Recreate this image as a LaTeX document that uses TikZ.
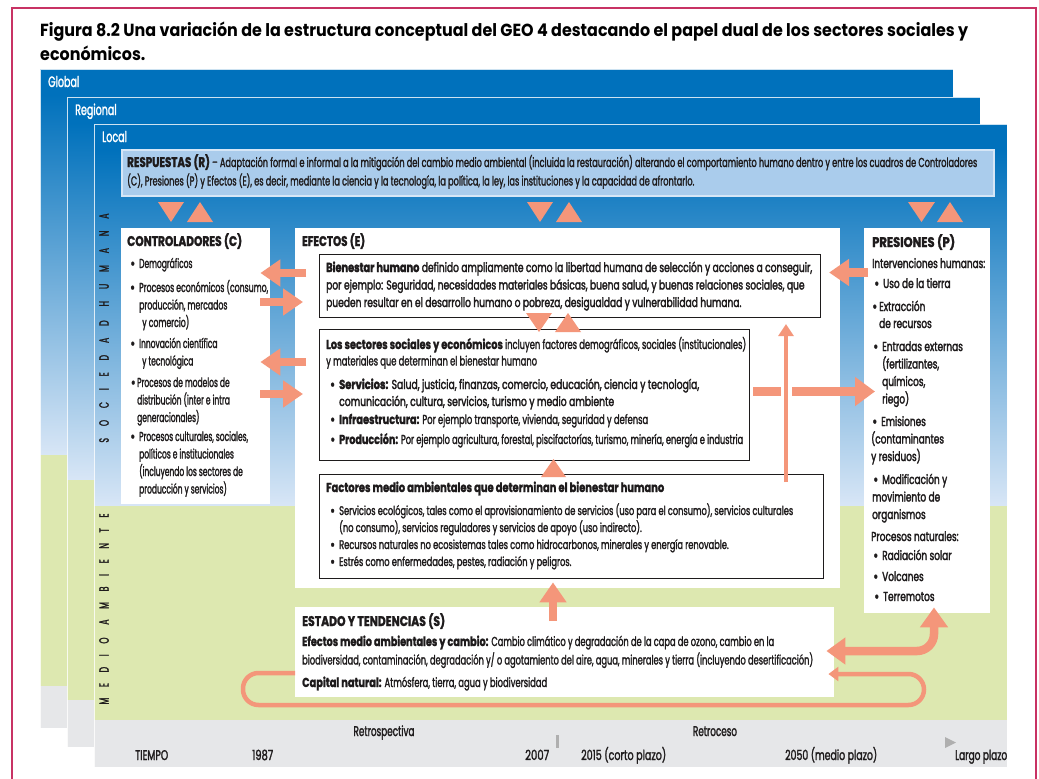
\documentclass[tikz,border=0pt]{standalone}
\usepackage{graphicx}
\usepackage{fontspec}
\setmainfont{Poppins}[FakeStretch=0.635,FakeBold=1.6,BoldFeatures={FakeStretch=0.74}]
\newfontfamily\narrowfont{Poppins}[FakeStretch=0.58,FakeBold=1.6,BoldFeatures={FakeStretch=0.74}]
\newfontfamily\widefont{Poppins}[FakeStretch=0.69,FakeBold=2.2,BoldFeatures={FakeStretch=0.74}]
\newfontfamily\titlefont{Poppins}[FakeStretch=0.86]
\usetikzlibrary{arrows.meta,calc}
\definecolor{gblue}{RGB}{0,113,188}
\definecolor{lblue}{RGB}{216,230,246}
\definecolor{rblue}{RGB}{170,204,236}
\definecolor{rborder}{RGB}{214,230,246}
\definecolor{ggreen}{RGB}{221,232,176}
\definecolor{ggray}{RGB}{230,231,233}
\definecolor{salmon}{RGB}{244,150,122}
\definecolor{framec}{RGB}{200,50,100}
\definecolor{tgray}{RGB}{175,175,175}
\definecolor{ink}{RGB}{30,27,28}
\newcommand\blk[2]{\vtop{\baselineskip=#1pt\lineskiplimit=-\maxdimen\halign{##\hfil\cr#2\crcr}}}
\newcommand\fw[2]{\resizebox{#1pt}{\height}{#2}}
\newcommand\bu{\llap{\textbf{•}\hspace{4pt}}}
\newcommand\panel[8]{%
  \shade[top color=gblue, bottom color=lblue] (#1,#3+26) rectangle (#2,#4);
  \fill[gblue] (#1,#3) rectangle (#2,#3+27);
  \fill[ggreen] (#1,#4) rectangle (#2,#5);
  \fill[ggray] (#1,#5) rectangle (#2,#6);
  \draw[panelline] (#1,#3) rectangle (#2,#6);
  \node[txt, text=white, font=\fontsize{15}{17}\selectfont] (#8) at (#1+8,#3+18) {#7};
}
\tikzset{
  txt/.style={anchor=base west, inner sep=0pt, text=ink, font=\fontsize{13}{17}\selectfont},
  ctxt/.style={txt, font=\narrowfont\fontsize{13}{17}\selectfont},
  wtxt/.style={txt, font=\widefont\fontsize{13}{17}\selectfont},
  hd/.style={txt, font=\bfseries\fontsize{14}{17}\selectfont},
  smalltxt/.style={txt, font=\fontsize{12.5}{17}\selectfont},
  tltxt/.style={txt, font=\fontsize{14}{17}\selectfont},
  panelline/.style={draw=white, draw opacity=0.8, line width=0.8pt},
  wbox/.style={fill=white, inner sep=0pt, anchor=north west},
  ibox/.style={fill=white, draw=ink, line width=1.1pt, inner sep=0pt, anchor=north west},
  flowarrow/.style={draw=salmon, line width=8.5pt, -{Triangle[width=26pt,length=20pt]}},
  thinarrow/.style={draw=salmon, line width=4.5pt, -{Triangle[width=15pt,length=12pt]}},
  looparrow/.style={draw=salmon, line width=4.5pt, rounded corners=15.5pt, -{Triangle[width=14pt,length=10pt]}},
  vlabel/.style={inner sep=0pt, rotate=90, text=ink},
}
\begin{document}
\begin{tikzpicture}[x=1pt,y=-1pt]
\useasboundingbox (0,0) rectangle (1039,779);
\fill[white] (0,0) rectangle (1039,779);
\draw[framec, line width=1.3pt] (12,790) -- (12,8) -- (1036,8) -- (1036,790);

% title
\node[txt, text=black, font=\titlefont\bfseries\fontsize{17.5}{23}\selectfont] (title) at (40,37)
  {\fw{928}{\blk{23}{Figura 8.2 Una variación de la estructura conceptual del GEO 4 destacando el papel dual de los sectores sociales y\cr económicos.}}};

% panels
\panel{40}{953}{69}{455}{686}{728}{Global}{pg}
\panel{67}{980}{97}{480}{700}{747}{Regional}{pr}
\panel{94}{1007}{124}{506}{720}{767}{Local}{pl}

% respuestas
\node[fill=rblue, draw=rborder, line width=1.5pt, inner sep=0pt, anchor=north west, minimum width=872pt, minimum height=46pt] (resp) at (121,149) {};
\node[txt] (respt) at (127,167) {\fw{850}{\blk{18.5}{{\bfseries\fontsize{14}{17}\selectfont RESPUESTAS (R)} – Adaptación formal e informal a la mitigación del cambio medio ambiental (incluida la restauración) alterando el comportamiento humano dentro y entre los cuadros de Controladores\cr (C), Presiones (P) y Efectos (E), es decir, mediante la ciencia y la tecnología, la política, la ley, las instituciones y la capacidad de afrontarlo.}}};

% vertical labels
\node[vlabel, font=\narrowfont\fontsize{13.5}{13.5}\selectfont\addfontfeatures{LetterSpace=88}] (vsh) at (104,328) {SOCIEDAD HUMANA};
\node[vlabel, font=\narrowfont\fontsize{13.5}{13.5}\selectfont\addfontfeatures{LetterSpace=79}] (vma) at (104,609) {MEDIO AMBIENTE};

% main boxes
\node[wbox, minimum width=149pt, minimum height=276pt] (ctrl) at (121,228) {};
\node[wbox, minimum width=545pt, minimum height=360pt] (eff) at (295,228) {};
\node[wbox, minimum width=126pt, minimum height=385pt] (pres) at (864,228) {};
\node[ibox, minimum width=501pt, minimum height=63pt] (bien) at (319,254) {};
\node[ibox, minimum width=430pt, minimum height=131pt] (sec) at (319,329) {};
\node[ibox, minimum width=504pt, minimum height=104pt] (fac) at (319,474) {};
\node[wbox, minimum width=539pt, minimum height=90pt] (est) at (295,607) {};

% controladores text
\node[hd] (cT) at (127,246) {\fw{115}{CONTROLADORES (C)}};
\node[ctxt] (c1) at (139,268) {\bu Demográficos};
\node[ctxt] (c2) at (139,292) {\fw{129}{\blk{17.5}{\bu Procesos económicos (consumo,\cr producción, mercados\cr \hspace*{3pt}y comercio)}}};
\node[ctxt] (c3) at (139,348) {\blk{17.5}{\bu Innovación científica\cr \hspace*{3pt}y tecnológica}};
\node[ctxt] (c4) at (137,387) {\blk{17.5}{\llap{\textbf{•}\hspace{1.5pt}}Procesos de modelos de\cr distribución (inter e intra\cr generacionales)}};
\node[ctxt] (c5) at (139,441) {\blk{17.5}{\bu Procesos culturales, sociales,\cr políticos e institucionales\cr (incluyendo los sectores de\cr producción y servicios)}};

% efectos text
\node[hd] (eT) at (302,246) {\fw{63}{EFECTOS (E)}};
\node[wtxt] (bt) at (326,272) {\fw{486}{\blk{17.5}{\textbf{Bienestar humano} definido ampliamente como la libertad humana de selección y acciones a conseguir,\cr por ejemplo: Seguridad, necesidades materiales básicas, buena salud, y buenas relaciones sociales, que\cr pueden resultar en el desarrollo humano o pobreza, desigualdad y vulnerabilidad humana.}}};
\node[txt] (st) at (326,349) {\fw{420}{\blk{16.5}{\textbf{Los sectores sociales y económicos} incluyen factores demográficos, sociales (institucionales)\cr y materiales que determinan el bienestar humano}}};
\node[wtxt] (s1) at (339,389) {\fw{360}{\blk{17}{\bu\textbf{Servicios:} Salud, justicia, finanzas, comercio, educación, ciencia y tecnología,\cr comunicación, cultura, servicios, turismo y medio ambiente}}};
\node[txt] (s2) at (339,424) {\fw{309}{\bu\textbf{Infraestructura:} Por ejemplo transporte, vivienda, seguridad y defensa}};
\node[txt] (s3) at (339,444) {\fw{404}{\bu\textbf{Producción:} Por ejemplo agricultura, forestal, piscifactorías, turismo, minería, energía e industria}};
\node[hd, font=\bfseries\fontsize{13}{17}\selectfont] (fT) at (326,492) {\fw{338}{Factores medio ambientales que determinan el bienestar humano}};
\node[smalltxt] (f1) at (339,515) {\fw{454}{\blk{17}{\bu Servicios ecológicos, tales como el aprovisionamiento de servicios (uso para el consumo), servicios culturales\cr (no consumo), servicios reguladores y servicios de apoyo (uso indirecto).\cr \bu Recursos naturales no ecosistemas tales como hidrocarbonos, minerales y energía renovable.\cr \bu Estrés como enfermedades, pestes, radiación y peligros.}}};

% presiones text
\node[hd] (pT) at (872,247) {\fw{83}{PRESIONES (P)}};
\node[wtxt] (p0) at (872,268) {\fw{113}{Intervenciones humanas:}};
\node[wtxt] (p1) at (883,288) {\bu Uso de la tierra};
\node[wtxt] (p2) at (879,311) {\blk{17}{\llap{\textbf{•}\hspace{2pt}}Extracción\cr de recursos}};
\node[wtxt] (p3) at (882,351) {\blk{17.5}{\bu Entradas externas\cr (fertilizantes,\cr químicos,\cr riego)}};
\node[wtxt] (p4) at (871,426) {\blk{17.5}{\hspace*{10pt}\bu Emisiones\cr (contaminantes\cr y residuos)}};
\node[wtxt] (p5) at (872,484) {\blk{17.5}{\hspace*{10pt}\bu Modificación y\cr movimiento de\cr organismos}};
\node[wtxt] (p6) at (871,541) {Procesos naturales:};
\node[wtxt] (p7) at (882,560) {\bu Radiación solar};
\node[wtxt] (p8) at (882,581) {\bu Volcanes};
\node[wtxt] (p9) at (883,601) {\bu Terremotos};

% estado text
\node[hd] (eS) at (302,626) {\fw{143}{ESTADO Y TENDENCIAS (S)}};
\node[txt] (e1) at (302,646) {\fw{511}{\blk{18.5}{\textbf{Efectos medio ambientales y cambio:} Cambio climático y degradación de la capa de ozono, cambio en la\cr biodiversidad, contaminación, degradación y/ o agotamiento del aire, agua, minerales y tierra (incluyendo desertificación)}}};
\node[txt] (e2) at (302,687) {\fw{245}{\textbf{Capital natural:} Atmósfera, tierra, agua y biodiversidad}};

% timeline
\node[tltxt] (t0) at (135,760) {\fw{33}{TIEMPO}};
\node[tltxt] (t1) at (252,760) {\fw{21}{1987}};
\node[tltxt, anchor=base] (t2) at (384,736) {\fw{61}{Retrospectiva}};
\node[tltxt] (t3) at (525,760) {\fw{24}{2007}};
\node[tltxt] (t4) at (581,760) {\fw{85}{2015 (corto plazo)}};
\node[tltxt, anchor=base] (t5) at (715,736) {\fw{44}{Retroceso}};
\node[tltxt] (t6) at (785,760) {\fw{92}{2050 (medio plazo)}};
\node[tltxt] (t7) at (955,760) {\fw{52}{Largo plazo}};
\fill[tgray] (555.5,735) rectangle (558.5,748);
\fill[tgray] (945,737) -- (956,742.5) -- (945,748) -- cycle;

% triangles
\fill[salmon] (158,202) -- (184,202) -- (171,222) -- cycle;
\fill[salmon] (187,222) -- (213,222) -- (200,202) -- cycle;
\fill[salmon] (527,202) -- (553,202) -- (540,222) -- cycle;
\fill[salmon] (556,222) -- (582,222) -- (569,202) -- cycle;
\fill[salmon] (908,202) -- (935,202) -- (921.5,222) -- cycle;
\fill[salmon] (937,222) -- (963,222) -- (950,202) -- cycle;
\fill[salmon] (526,313) -- (552,313) -- (539,332) -- cycle;
\fill[salmon] (555,332) -- (581,332) -- (568,313) -- cycle;
\fill[salmon] (541,477) -- (566,477) -- (553.5,459) -- cycle;

% arrows
\draw[flowarrow] ($(eff.west|-0,273)+(11,0)$) -- ($(ctrl.east|-0,273)+(-10,0)$);
\draw[flowarrow] ($(ctrl.east|-0,302)+(-10,0)$) -- ($(eff.west|-0,302)+(8,0)$);
\draw[flowarrow] ($(eff.west|-0,362)+(11,0)$) -- ($(ctrl.east|-0,362)+(-10,0)$);
\draw[flowarrow] ($(ctrl.east|-0,394)+(-10,0)$) -- ($(eff.west|-0,394)+(8,0)$);
\draw[flowarrow, line width=9.5pt, -{Triangle[width=28pt,length=20pt]}] ($(sec.east|-0,391.5)+(3,0)$) -- ($(pres.west|-0,391.5)+(11,0)$);
\draw[flowarrow] ($(pres.west|-0,272.5)+(4,0)$) -- ($(bien.east|-0,272.5)+(8,0)$);
\coordinate (vx) at (786,0);
\draw[white, line width=11pt] (786,383) -- (786,400);
\draw[thinarrow] ($(fac.north-|vx)+(0,8)$) -- ($(bien.south-|vx)+(0,6)$);
\draw[flowarrow] ($(est.north-|553,0)+(0,14)$) -- ($(eff.south-|553,0)+(0,-6)$);
\coordinate (hc) at (934,651);
\draw[flowarrow, {Triangle[width=26pt,length=19pt]}-{Triangle[width=27pt,length=20pt]}, rounded corners=17pt]
  ($(est.east|-hc)+(-8,0)$) -- (hc) -- ($(pres.south-|hc)+(0,-6)$);
\coordinate (l1) at (243,673);
\coordinate (l2) at (243,705);
\coordinate (l3) at (924,705);
\coordinate (l4) at (924,674);
\draw[looparrow] (est.west|-l1) -- (l1) -- (l2) -- (l3) -- (l4) -- ($(est.east|-l4)+(-6,0)$);
\end{tikzpicture}
\end{document}
